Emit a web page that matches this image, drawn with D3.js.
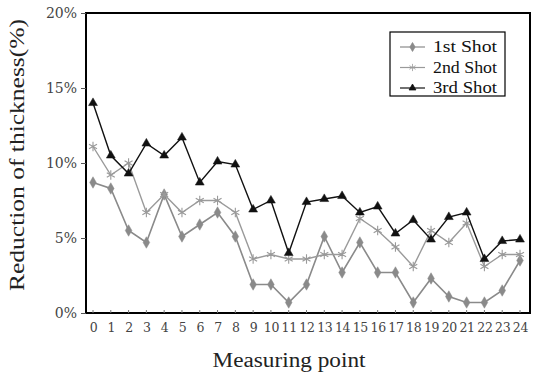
<!DOCTYPE html>
<html><head><meta charset="utf-8">
<script src="https://cdn.jsdelivr.net/npm/d3@7"></script>
<style>body{margin:0;background:#fff}svg{display:block}text{font-family:"Liberation Serif","DejaVu Serif",serif}</style>
</head><body>
<svg id="c" width="533" height="374"></svg>
<script>
const points = d3.range(0, 25);
const shot1 = [8.7,8.3,5.5,4.7,7.9,5.1,5.9,6.7,5.1,1.9,1.9,0.7,1.9,5.1,2.7,4.7,2.7,2.7,0.7,2.3,1.1,0.7,0.7,1.5,3.5];
const shot2 = [11.1,9.2,10.0,6.7,7.9,6.7,7.5,7.5,6.7,3.6,3.9,3.6,3.6,3.9,3.9,6.3,5.5,4.4,3.1,5.5,4.7,6.0,3.1,3.9,3.9];
const shot3 = [14.0,10.5,9.3,11.3,10.5,11.7,8.7,10.1,9.9,6.9,7.5,4.0,7.4,7.6,7.8,6.7,7.1,5.3,6.2,4.9,6.4,6.7,3.6,4.8,4.9];
const seriesNames = ["1st Shot","2nd Shot","3rd Shot"];
const yTicks = [0,5,10,15,20];

const svg = d3.select("#c");
const L=86, T=13, R=530, B=313;
const x = d3.scaleLinear().domain([0,24]).range([93,520]);
const y = d3.scaleLinear().domain([0,20]).range([B,T]);

const styles = [
  {color:"#8a8a8a", sym:d3.symbolDiamond, size:38, width:1.6},
  {color:"#9a9a9a", sym:d3.symbolAsterisk, size:60, width:1.4},
  {color:"#111", sym:d3.symbolTriangle, size:34, width:1.4}
];
const data = [shot1, shot2, shot3];

svg.append("rect").attr("x",L).attr("y",T).attr("width",R-L).attr("height",B-T)
  .attr("fill","none").attr("stroke","#000").attr("stroke-width",2);

const ya = svg.append("g").attr("transform",`translate(${L},0)`)
  .call(d3.axisLeft(y).tickValues(yTicks).tickSize(5).tickFormat(d=>d+"%"));
ya.select(".domain").remove();
ya.selectAll("line").attr("stroke","#555");
ya.selectAll("text").attr("font-size",14).attr("fill","#444").attr("x",-9)
  .style("font-family",'"DejaVu Serif",serif').style("font-weight",300);

const xa = svg.append("g").attr("transform",`translate(0,${B})`)
  .call(d3.axisBottom(x).tickValues(points).tickSize(0).tickPadding(10));
xa.select(".domain").remove();
xa.selectAll("text").attr("font-size",12.5).attr("fill","#444")
  .style("font-family",'"DejaVu Serif",serif').attr("letter-spacing",-0.3);
svg.append("g").selectAll("line").data(points).join("line")
  .attr("x1",d=>x(d)).attr("x2",d=>x(d)).attr("y1",B).attr("y2",B-3)
  .attr("stroke","#777").attr("stroke-width",1);

data.forEach((vals,i)=>{
  const s = styles[i];
  svg.append("path").datum(vals)
    .attr("d", d3.line().x((d,j)=>x(points[j])).y(d=>y(d)))
    .attr("fill","none").attr("stroke",s.color).attr("stroke-width",s.width);
  svg.append("g").selectAll("path").data(vals).join("path")
    .attr("transform",(d,j)=>`translate(${x(points[j])},${y(d)})`)
    .attr("d", d3.symbol().type(s.sym).size(s.size))
    .attr("fill", s.sym===d3.symbolAsterisk ? "none" : s.color)
    .attr("stroke", s.color).attr("stroke-width", s.sym===d3.symbolAsterisk?1.1:0.5);
});

const lg = svg.append("g");
lg.append("rect").attr("x",390).attr("y",32).attr("width",115).attr("height",64)
  .attr("fill","#fff").attr("stroke","#000").attr("stroke-width",1.2);
seriesNames.forEach((n,i)=>{
  const s = styles[i], yy = 47 + i*20.5;
  lg.append("line").attr("x1",400).attr("x2",425).attr("y1",yy).attr("y2",yy)
    .attr("stroke",s.color).attr("stroke-width",1.2);
  lg.append("path").attr("transform",`translate(412.5,${yy})`)
    .attr("d", d3.symbol().type(s.sym).size(s.size*0.6))
    .attr("fill", s.sym===d3.symbolAsterisk ? "none" : s.color).attr("stroke",s.color).attr("stroke-width",0.8);
  lg.append("text").attr("x",433).attr("y",yy+5).attr("font-size",16).attr("fill","#111")
    .attr("textLength",64).attr("lengthAdjust","spacingAndGlyphs").text(n);
});

svg.append("text").attr("x",289).attr("y",367).attr("text-anchor","middle")
  .attr("font-size",20).attr("fill","#222").attr("textLength",153).attr("lengthAdjust","spacingAndGlyphs").text("Measuring point");
svg.append("text").attr("transform","translate(24,155) rotate(-90)").attr("text-anchor","middle")
  .attr("font-size",20).attr("fill","#222").attr("textLength",272).attr("lengthAdjust","spacingAndGlyphs").text("Reduction of thickness(%)");
</script>
</body></html>
